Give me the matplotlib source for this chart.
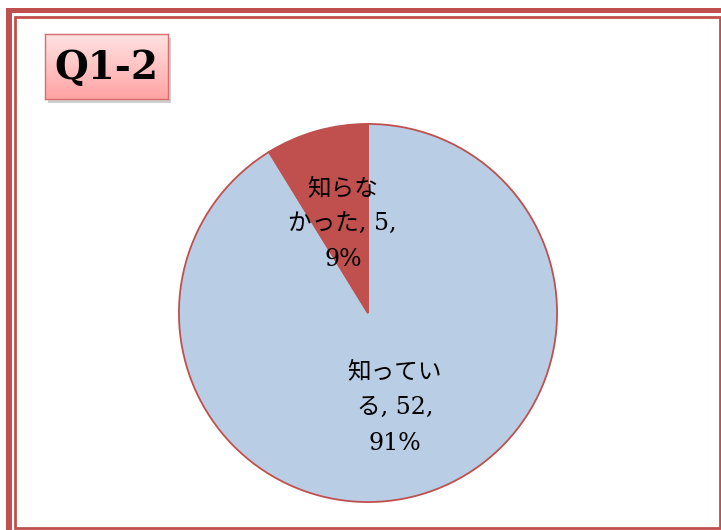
import numpy as np
import matplotlib.pyplot as plt
from matplotlib.patches import Rectangle

# data
labels = ['知ってい\nる, 52,\n91%', '知らな\nかった, 5,\n9%']
values = [52, 5]
colors = ['#B9CDE5', '#C0504D']
title = 'Q1-2'

W, H = 721, 530
fig = plt.figure(figsize=(W / 100, H / 100), dpi=100)
fig.patch.set_facecolor('white')

def fx(px):
    return px / W

def fy(py):
    return 1 - py / H

red = '#C0504D'
# outer thick frame (top and left only visible)
fig.patches.append(Rectangle((fx(6), fy(13)), fx(W + 20) - fx(6), 5 / H, transform=fig.transFigure,
                             facecolor=red, edgecolor='none', zorder=-5))
fig.patches.append(Rectangle((fx(6), 0), 6 / W, fy(8), transform=fig.transFigure,
                             facecolor=red, edgecolor='none', zorder=-5))
# inner thin frame
fig.patches.append(Rectangle((fx(14.5), fy(528)), fx(720) - fx(14.5), fy(17) - fy(528),
                             transform=fig.transFigure, facecolor='none', edgecolor=red, lw=2, zorder=-5))
# shadow of the title box
fig.patches.append(Rectangle((fx(48), fy(103)), 123 / W, 65 / H, transform=fig.transFigure,
                             facecolor='#b0b0b0', edgecolor='none', alpha=0.6, zorder=-4))

# pie
ax = fig.add_axes([fx(178), fy(503), 380 / W, 380 / H])
wedges, texts = ax.pie(values, labels=labels, colors=colors, startangle=90, counterclock=False,
                       labeldistance=0.52, wedgeprops=dict(edgecolor=red, linewidth=1.3),
                       textprops=dict(family=['DejaVu Serif', 'Noto Sans CJK JP'], fontsize=17))
for t in texts:
    t.set_ha('center')
    t.set_va('center')
    t.set_multialignment('center')
    t.set_linespacing(1.7)
# small slice label sits a little closer to the centre
x, y = texts[1].get_position()
texts[1].set_position((x * 0.49 / 0.52, y * 0.49 / 0.52))
ax.set_xlim(-1.005, 1.005)
ax.set_ylim(-1.005, 1.005)
ax.set_aspect('equal')
ax.axis('off')

# title box with gradient
bx = fig.add_axes([fx(45), fy(99), 123 / W, 65 / H], zorder=5)
grad = np.linspace(0, 1, 100).reshape(-1, 1)
top = np.array([1.0, 0.89, 0.89])
bot = np.array([1.0, 0.64, 0.64])
img = top + grad[..., None] * (bot - top)
bx.imshow(img, aspect='auto', extent=[0, 1, 0, 1])
bx.set_xticks([])
bx.set_yticks([])
for s in bx.spines.values():
    s.set_color('#D96C6C')
    s.set_linewidth(1)
bx.text(0.5, 0.47, title, ha='center', va='center', fontsize=28, fontweight='bold',
        family='DejaVu Serif', color='black', transform=bx.transAxes)

plt.savefig('out.png', dpi=100)
